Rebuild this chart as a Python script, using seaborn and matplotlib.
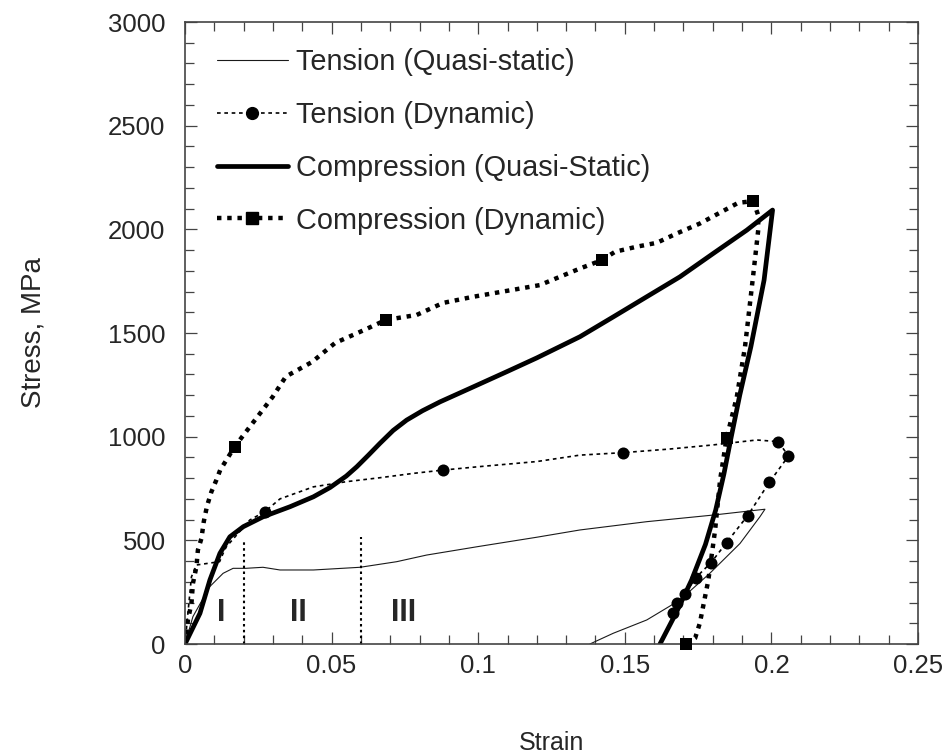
import matplotlib
matplotlib.use("Agg")
import matplotlib.pyplot as plt
from matplotlib.lines import Line2D
import seaborn as sns
import numpy as np

# Tension, quasi-static (loading + unloading)
tqs_strain = [0, 0.0027, 0.0084, 0.013, 0.0164, 0.0207, 0.0266, 0.0324, 0.0438, 0.0597, 0.0722,
              0.0824, 0.1, 0.12, 0.1347, 0.1575, 0.1802, 0.1978, 0.1961, 0.1893, 0.179, 0.1688,
              0.1575, 0.1461, 0.1381]
tqs_stress = [0, 132, 276, 341, 365, 365, 370, 357, 357, 370, 397,
              429, 470, 515, 550, 590, 622, 650, 614, 485, 341, 212,
              116, 52, 0]

# Tension, dynamic
tdy_strain = [0, 0.001, 0.0022, 0.0039, 0.0078, 0.0118, 0.013, 0.0141, 0.0221, 0.0272, 0.0324,
              0.0438, 0.0551, 0.0665, 0.0779, 0.0881, 0.1, 0.12, 0.1347, 0.1495, 0.165, 0.18,
              0.195, 0.2024, 0.2058, 0.1993, 0.1919, 0.1847, 0.1794, 0.1742, 0.1705, 0.1677, 0.1666]
tdy_stress = [0, 150, 324, 381, 389, 397, 437, 469, 598, 638, 700,
              758, 783, 802, 823, 839, 855, 880, 911, 923, 940, 960,
              984, 976, 906, 780, 619, 489, 392, 320, 241, 196, 151]
tdy_mark_strain = [0.0272, 0.0881, 0.1495, 0.2024, 0.2058, 0.1993, 0.1919, 0.1847, 0.1794,
                   0.1742, 0.1705, 0.1677, 0.1666]
tdy_mark_stress = [638, 839, 923, 976, 906, 780, 619, 489, 392, 320, 241, 196, 151]

# Compression, quasi-static
cqs_strain = [0, 0.0051, 0.0085, 0.0119, 0.0153, 0.0199, 0.0267, 0.0358, 0.0438, 0.0495, 0.055,
              0.0586, 0.0625, 0.0665, 0.071, 0.0756, 0.081, 0.087, 0.0972, 0.11, 0.12, 0.1347,
              0.1461, 0.1575, 0.1688, 0.1802, 0.1916, 0.2004, 0.1975, 0.193, 0.1892, 0.1862,
              0.1838, 0.181, 0.1775, 0.1728, 0.1675, 0.162]
cqs_stress = [0, 148, 309, 437, 517, 566, 614, 662, 710, 755, 810,
              855, 910, 968, 1030, 1080, 1125, 1168, 1233, 1315, 1380, 1482,
              1578, 1675, 1771, 1884, 1996, 2093, 1755, 1434, 1200, 992,
              820, 646, 480, 309, 150, 0]

# Compression, dynamic
cdy_strain = [0, 0.001, 0.0022, 0.0027, 0.0039, 0.0044, 0.0056, 0.0064, 0.0075, 0.009, 0.0107,
              0.012, 0.0141, 0.0169, 0.0204, 0.0299, 0.0344, 0.0433, 0.0512, 0.0612, 0.0685,
              0.079, 0.088, 0.098, 0.121, 0.1347, 0.1421, 0.1467, 0.154, 0.1609, 0.1677, 0.1756,
              0.1836, 0.1887, 0.1938, 0.1955, 0.1955, 0.1938, 0.191, 0.1882, 0.1847, 0.1825,
              0.1808, 0.1785, 0.1756, 0.174, 0.1709]
cdy_stress = [0, 116, 196, 292, 373, 453, 509, 590, 665, 734, 791,
              839, 887, 951, 1016, 1192, 1290, 1360, 1452, 1515, 1563,
              1587, 1645, 1674, 1731, 1811, 1851, 1892, 1916, 1935, 1980, 2028,
              2089, 2128, 2136, 2068, 1996, 1780, 1434, 1192, 992, 791,
              550, 309, 101, 29, 0]
cdy_mark_strain = [0.0169, 0.0685, 0.1421, 0.1938, 0.1847, 0.1709]
cdy_mark_stress = [951, 1563, 1851, 2136, 992, 0]

# stage boundaries and labels
stage_x = [0.02, 0.06]
stage_top = [490, 515]
stage_labels = ["I", "II", "III"]
stage_label_x = [0.0125, 0.0387, 0.0745]
stage_label_y = 148

legend_labels = ["Tension (Quasi-static)", "Tension (Dynamic)",
                 "Compression (Quasi-Static)", "Compression (Dynamic)"]

sns.set_theme(style="ticks")
plt.rcParams['font.family'] = ['Liberation Sans', 'DejaVu Sans']

fig = plt.figure(figsize=(9.52, 7.55), dpi=100)
ax = fig.add_axes([185 / 952, 111 / 755, 733 / 952, 622 / 755])

tqs_style = dict(color="#1a1a1a", lw=0.8, ls="-")
tdy_style = dict(color="black", lw=1.2, ls=(0, (2.2, 2.2)))
cqs_style = dict(color="black", lw=3.4, ls="-")
cdy_style = dict(color="black", lw=3.2, ls=(0, (1.0, 1.3)))

for xs, ys, st in [(tqs_strain, tqs_stress, tqs_style), (tdy_strain, tdy_stress, tdy_style),
                   (cqs_strain, cqs_stress, cqs_style), (cdy_strain, cdy_stress, cdy_style)]:
    sns.lineplot(x=xs, y=ys, sort=False, estimator=None, ax=ax, color=st["color"],
                 linewidth=st["lw"])
    ax.lines[-1].set_linestyle(st["ls"])

sns.scatterplot(x=tdy_mark_strain, y=tdy_mark_stress, marker="o", s=75, color="black",
                edgecolor="black", linewidth=0, ax=ax, clip_on=False, zorder=5)
sns.scatterplot(x=cdy_mark_strain, y=cdy_mark_stress, marker="s", s=75, color="black",
                edgecolor="black", linewidth=0, ax=ax, clip_on=False, zorder=5)

ax.vlines(stage_x, 0, stage_top, colors="black", linestyles=(0, (1.2, 1.6)), linewidth=1.5)
for lab, lx in zip(stage_labels, stage_label_x):
    ax.text(lx, stage_label_y, lab, ha="center", va="center", fontsize=22, fontweight="bold",
            family=["Liberation Sans Narrow", "Liberation Sans"])

ax.set_xlim(0, 0.25)
ax.set_ylim(0, 3000)
ax.set_xticks([0, 0.05, 0.1, 0.15, 0.2, 0.25])
ax.set_xticklabels(["0", "0.05", "0.1", "0.15", "0.2", "0.25"])
ax.set_yticks(np.arange(0, 3001, 500))
ax.set_xticks(np.arange(0, 0.2501, 0.01), minor=True)
ax.set_yticks(np.arange(0, 3001, 100), minor=True)
ax.tick_params(which="both", direction="in", top=True, right=True, color="#444444",
               labelsize=18.5, width=0.9)
ax.tick_params(axis="x", which="major", pad=7)
ax.tick_params(axis="y", which="major", pad=14)
ax.tick_params(which="major", length=8.5)
ax.tick_params(which="minor", length=6.5)
for sp in ax.spines.values():
    sp.set_color("#444444")
    sp.set_linewidth(1.2)

ax.set_xlabel("Strain", fontsize=18, labelpad=38)
ax.set_ylabel("Stress, MPa", fontsize=20, labelpad=44)

handles = [
    Line2D([], [], color=tqs_style["color"], lw=tqs_style["lw"], ls=tqs_style["ls"]),
    Line2D([], [], color="black", lw=tdy_style["lw"], ls=tdy_style["ls"], marker="o", markersize=8.5),
    Line2D([], [], color="black", lw=cqs_style["lw"], ls=cqs_style["ls"]),
    Line2D([], [], color="black", lw=cdy_style["lw"], ls=cdy_style["ls"], marker="s", markersize=8.5),
]
ax.legend(handles, legend_labels, loc="upper left", frameon=False, fontsize=20.8,
          bbox_to_anchor=((217 - 185) / 733, (644 - 48) / 622), borderpad=0, borderaxespad=0,
          handlelength=2.45, handletextpad=0.3, labelspacing=0.86, numpoints=1)

fig.savefig("out.png", dpi=100)
